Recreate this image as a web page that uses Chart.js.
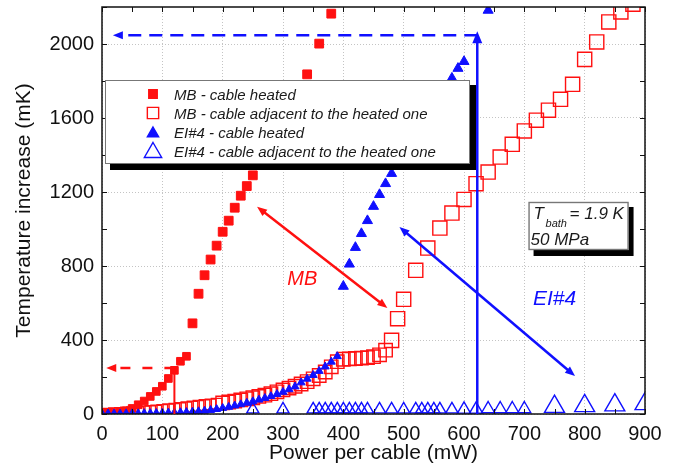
<!DOCTYPE html>
<html>
<head>
<meta charset="utf-8">
<script src="https://cdn.jsdelivr.net/npm/chart.js@4.4.0/dist/chart.umd.min.js"></script>
<style>
  html, body { margin: 0; padding: 0; background: #fff; }
  #wrap { width: 685px; height: 464px; }
</style>
</head>
<body>
<div id="wrap"><canvas id="chart" width="685" height="464"></canvas></div>
<script>
// MB - cable heated (filled red squares)
const mbHeatedX = [0, 10, 20, 30, 40, 50, 60, 70, 80, 90, 100, 110, 120, 130, 140, 150, 160, 170, 180, 190, 200, 210, 220, 230, 240, 250, 260, 270, 280, 290, 300, 310, 320, 330, 340, 360, 380];
const mbHeatedY = [2, 3, 5, 9, 17, 30, 50, 70, 95, 122, 150, 192, 236, 285, 312, 490, 650, 750, 835, 910, 985, 1045, 1115, 1180, 1232, 1290, 1350, 1410, 1470, 1530, 1590, 1650, 1700, 1755, 1836, 2002, 2164];

// MB - cable adjacent to the heated one (open red squares)
const mbAdjX = [0, 10, 20, 30, 40, 50, 60, 70, 80, 90, 100, 110, 120, 130, 140, 150, 160, 170, 180, 190, 200, 210, 220, 230, 240, 250, 260, 270, 280, 290, 300, 310, 320, 330, 340, 350, 360, 370, 380, 390, 400, 410, 420, 430, 440, 450, 460, 470, 480, 490, 500, 520, 540, 560, 580, 600, 620, 640, 660, 680, 700, 720, 740, 760, 780, 800, 820, 840, 860, 880];
const mbAdjY = [0, 2, 4, 6, 8, 10, 12, 14, 16, 19, 22, 25, 28, 32, 36, 40, 44, 48, 52, 56, 60, 65, 70, 76, 82, 88, 95, 102, 110, 120, 130, 140, 150, 162, 175, 190, 208, 227, 255, 283, 296, 298, 300, 302, 305, 310, 320, 345, 398, 515, 620, 777, 897, 1005, 1086, 1160, 1245, 1308, 1389, 1458, 1530, 1588, 1642, 1701, 1782, 1917, 2011, 2119, 2173, 2215];

// EI#4 - cable heated (filled blue triangles)
const eiHeatedX = [0, 10, 20, 30, 40, 50, 60, 70, 80, 90, 100, 110, 120, 130, 140, 150, 160, 170, 180, 190, 200, 210, 220, 230, 240, 250, 260, 270, 280, 290, 300, 310, 320, 330, 340, 350, 360, 370, 380, 390, 400, 410, 420, 430, 440, 450, 460, 470, 480, 490, 500, 510, 520, 530, 540, 550, 560, 570, 580, 590, 600, 640];
const eiHeatedY = [2, 2, 2, 2, 3, 3, 3, 4, 4, 5, 6, 7, 8, 9, 10, 12, 14, 17, 21, 26, 32, 38, 45, 52, 60, 68, 77, 86, 96, 107, 119, 133, 148, 170, 190, 210, 232, 256, 282, 312, 690, 810, 900, 975, 1045, 1122, 1186, 1245, 1300, 1350, 1400, 1450, 1500, 1550, 1600, 1650, 1700, 1760, 1815, 1868, 1905, 2182];

// EI#4 - cable adjacent to the heated one (open blue triangles)
const eiAdjX = [250, 300, 350, 360, 370, 380, 390, 400, 410, 420, 430, 440, 460, 480, 500, 520, 530, 540, 550, 560, 580, 600, 620, 640, 660, 680, 700, 750, 800, 850, 900];
const eiAdjY = [25, 25, 25, 25, 25, 25, 25, 25, 25, 25, 25, 25, 25, 25, 25, 25, 25, 25, 25, 25, 25, 25, 25, 27, 27, 27, 27, 40, 44, 48, 55];

const xTickValues = [0, 100, 200, 300, 400, 500, 600, 700, 800, 900];
const yTickValues = [0, 400, 800, 1200, 1600, 2000];

const legendLabels = ['MB - cable heated', 'MB - cable adjacent to the heated one', 'EI#4 - cable heated', 'EI#4 - cable adjacent to the heated one'];

// annotation anchors, data units
const mbArrow = [[257, 1120], [473, 573]];
const eiArrow = [[493, 1011], [784, 205]];
const mbRead = { x: 120, y: 248, tipX: 7 };
const eiRead = { x: 622, y: 2047, tipX: 18, tipY: 2069 };

const RED = '#ff1010';
const BLUE = '#1010ff';
const FONT = '"Liberation Sans", Arial, sans-serif';

const pts = (xs, ys) => xs.map((x, i) => ({ x: x, y: ys[i] }));

function arrowHead(ctx, x0, y0, x1, y1, len, half, color) {
  const a = Math.atan2(y1 - y0, x1 - x0);
  const c = Math.cos(a), s = Math.sin(a);
  ctx.beginPath();
  ctx.moveTo(x1, y1);
  ctx.lineTo(x1 - len * c + half * s, y1 - len * s - half * c);
  ctx.lineTo(x1 - len * c - half * s, y1 - len * s + half * c);
  ctx.closePath();
  ctx.fillStyle = color;
  ctx.fill();
}

function marker(ctx, style, x, y, r, color, filled) {
  ctx.beginPath();
  if (style === 'rect') {
    const h = r * Math.SQRT1_2;
    ctx.rect(x - h, y - h, 2 * h, 2 * h);
  } else {
    ctx.moveTo(x, y - r);
    ctx.lineTo(x + r * Math.sin(2 * Math.PI / 3), y - r * Math.cos(2 * Math.PI / 3));
    ctx.lineTo(x + r * Math.sin(4 * Math.PI / 3), y - r * Math.cos(4 * Math.PI / 3));
    ctx.closePath();
  }
  ctx.lineWidth = 1.4;
  ctx.strokeStyle = color;
  if (filled) { ctx.fillStyle = color; ctx.fill(); }
  ctx.stroke();
}

const annotate = {
  id: 'annotate',
  afterDatasetsDraw(chart) {
    const { ctx, chartArea: ca, scales: { x: xs, y: ys } } = chart;
    const px = v => xs.getPixelForValue(v);
    const py = v => ys.getPixelForValue(v);
    ctx.save();

    // inward ticks + frame
    ctx.strokeStyle = '#111';
    ctx.lineWidth = 1;
    ctx.beginPath();
    for (let v = 0; v <= 900; v += 50) {
      const x = Math.round(px(v)) + 0.5;
      ctx.moveTo(x, ca.bottom); ctx.lineTo(x, ca.bottom - 5);
      ctx.moveTo(x, ca.top); ctx.lineTo(x, ca.top + 5);
    }
    for (let v = 0; v <= 2200; v += 200) {
      const y = Math.round(py(v)) + 0.5;
      ctx.moveTo(ca.left, y); ctx.lineTo(ca.left + 5, y);
      ctx.moveTo(ca.right, y); ctx.lineTo(ca.right - 5, y);
    }
    ctx.stroke();
    ctx.lineWidth = 1.5;
    ctx.strokeRect(ca.left, ca.top, ca.right - ca.left, ca.bottom - ca.top);

    // MB reading at 120 mW
    ctx.strokeStyle = RED;
    ctx.lineWidth = 2;
    ctx.beginPath();
    ctx.moveTo(px(mbRead.x), py(0));
    ctx.lineTo(px(mbRead.x), py(mbRead.y));
    ctx.stroke();
    ctx.lineWidth = 2.5;
    ctx.setLineDash([10, 12]);
    ctx.beginPath();
    ctx.moveTo(px(mbRead.x), py(mbRead.y));
    ctx.lineTo(px(mbRead.tipX) + 8, py(mbRead.y));
    ctx.stroke();
    ctx.setLineDash([]);
    arrowHead(ctx, px(mbRead.x), py(mbRead.y), px(mbRead.tipX), py(mbRead.y), 10, 4, RED);

    // EI#4 reading at 620 mW
    ctx.strokeStyle = BLUE;
    ctx.lineWidth = 2.5;
    ctx.beginPath();
    ctx.moveTo(px(eiRead.x), py(0));
    ctx.lineTo(px(eiRead.x), py(eiRead.tipY) + 8);
    ctx.stroke();
    arrowHead(ctx, px(eiRead.x), py(0), px(eiRead.x), py(eiRead.tipY), 12, 5, BLUE);
    ctx.setLineDash([13, 8]);
    ctx.beginPath();
    ctx.moveTo(px(eiRead.x), py(eiRead.y));
    ctx.lineTo(px(eiRead.tipX) + 8, py(eiRead.y));
    ctx.stroke();
    ctx.setLineDash([]);
    arrowHead(ctx, px(eiRead.x), py(eiRead.y), px(eiRead.tipX), py(eiRead.y), 10, 4, BLUE);

    // double arrows
    [[mbArrow, RED], [eiArrow, BLUE]].forEach(([a, col]) => {
      const x0 = px(a[0][0]), y0 = py(a[0][1]), x1 = px(a[1][0]), y1 = py(a[1][1]);
      const d = Math.hypot(x1 - x0, y1 - y0), ux = (x1 - x0) / d, uy = (y1 - y0) / d;
      ctx.strokeStyle = col;
      ctx.lineWidth = 2.5;
      ctx.beginPath();
      ctx.moveTo(x0 + ux * 7, y0 + uy * 7);
      ctx.lineTo(x1 - ux * 7, y1 - uy * 7);
      ctx.stroke();
      arrowHead(ctx, x0, y0, x1, y1, 10, 4, col);
      arrowHead(ctx, x1, y1, x0, y0, 10, 4, col);
    });

    // labels
    ctx.textAlign = 'center';
    ctx.textBaseline = 'middle';
    ctx.font = 'italic 20px ' + FONT;
    ctx.fillStyle = RED;
    ctx.fillText('MB', px(332), py(730));
    ctx.font = 'italic 21px ' + FONT;
    ctx.fillStyle = BLUE;
    ctx.fillText('EI#4', px(750), py(619));
    ctx.restore();
  },
  afterDraw(chart) {
    const { ctx, chartArea: ca, scales: { x: xs, y: ys } } = chart;
    ctx.save();

    // legend box
    const lx = ca.left + 3, ly = ca.top + 73, lw = 365, lh = 84;
    ctx.fillStyle = '#000';
    ctx.fillRect(lx + 5, ly + 5, lw + 1, lh + 1);
    ctx.fillStyle = '#fff';
    ctx.fillRect(lx, ly, lw, lh);
    ctx.strokeStyle = '#777';
    ctx.lineWidth = 1;
    ctx.strokeRect(lx + 0.5, ly + 0.5, lw - 1, lh - 1);
    const styles = [['rect', 6, RED, true], ['rect', 8, RED, false], ['triangle', 6.5, BLUE, true], ['triangle', 10, BLUE, false]];
    ctx.font = 'italic 15px ' + FONT;
    ctx.textAlign = 'left';
    ctx.textBaseline = 'alphabetic';
    legendLabels.forEach((t, i) => {
      const rowY = ly + 14 + i * 19;
      const s = styles[i];
      marker(ctx, s[0], lx + 48, rowY + (s[0] === 'triangle' ? 1.5 : 0), s[1], s[2], s[3]);
      ctx.fillStyle = '#1a1a1a';
      ctx.fillText(t, lx + 69, rowY + 5.5);
    });

    // conditions box
    const bx = xs.getPixelForValue(707), by = ys.getPixelForValue(1146);
    ctx.fillStyle = '#000';
    ctx.fillRect(bx + 5, by + 5, 100, 49);
    ctx.fillStyle = '#fff';
    ctx.fillRect(bx, by, 100, 48);
    ctx.strokeStyle = '#777';
    ctx.strokeRect(bx + 0.5, by + 0.5, 99, 47);
    ctx.fillStyle = '#1a1a1a';
    ctx.font = 'italic 17px ' + FONT;
    ctx.fillText('T', bx + 5, by + 17);
    ctx.font = 'italic 11px ' + FONT;
    ctx.fillText('bath', bx + 17, by + 25);
    ctx.font = 'italic 17px ' + FONT;
    ctx.fillText('= 1.9 K', bx + 41, by + 17);
    ctx.fillText('50 MPa', bx + 2, by + 43);
    ctx.restore();
  }
};

new Chart(document.getElementById('chart'), {
  type: 'scatter',
  data: {
    datasets: [
      {
        label: legendLabels[2],
        data: pts(eiHeatedX, eiHeatedY),
        pointStyle: 'triangle',
        pointRadius: ctx => (ctx.raw && ctx.raw.x >= 400 ? 5.8 : 4.6),
        backgroundColor: BLUE,
        borderColor: BLUE,
        borderWidth: 1,
        clip: 0
      },
      {
        label: legendLabels[3],
        data: pts(eiAdjX, eiAdjY),
        pointStyle: 'triangle',
        pointRadius: ctx => (ctx.raw && ctx.raw.x >= 740 ? 11.5 : (ctx.raw && ctx.raw.x >= 600 ? 7.5 : 7)),
        backgroundColor: 'rgba(0,0,0,0)',
        borderColor: BLUE,
        borderWidth: 1.4,
        clip: 0
      },
      {
        label: legendLabels[0],
        data: pts(mbHeatedX, mbHeatedY),
        pointStyle: 'rect',
        pointRadius: ctx => (ctx.raw && ctx.raw.x >= 150 ? 6.2 : 5.4),
        backgroundColor: RED,
        borderColor: RED,
        borderWidth: 1,
        clip: 0
      },
      {
        label: legendLabels[1],
        data: pts(mbAdjX, mbAdjY),
        pointStyle: 'rect',
        pointRadius: ctx => (ctx.raw && ctx.raw.x >= 480 ? 10 : (ctx.raw && ctx.raw.x >= 200 ? 9.5 : 7.5)),
        backgroundColor: 'rgba(0,0,0,0)',
        borderColor: RED,
        borderWidth: 1.4,
        clip: 0
      }
    ]
  },
  options: {
    responsive: false,
    animation: false,
    events: [],
    layout: { autoPadding: false, padding: { top: 7, right: 40, left: 0, bottom: 0 } },
    plugins: { legend: { display: false }, tooltip: { enabled: false } },
    scales: {
      x: {
        type: 'linear',
        min: 0,
        max: 900,
        afterBuildTicks: s => { s.ticks = xTickValues.map(v => ({ value: v })); },
        afterFit: s => { s.height = 50; s.paddingLeft = 0; s.paddingRight = 0; },
        grid: { color: '#c4c4c4', lineWidth: 1, drawTicks: false },
        border: { display: false, dash: [1, 2] },
        ticks: { font: { family: FONT, size: 20 }, color: '#111', padding: 8, maxRotation: 0, autoSkip: false, callback: v => String(v) },
        title: { display: true, text: 'Power per cable (mW)', font: { family: FONT, size: 21 }, color: '#111', padding: { top: 0, bottom: -2 } }
      },
      y: {
        type: 'linear',
        min: 0,
        max: 2200,
        afterBuildTicks: s => { s.ticks = yTickValues.map(v => ({ value: v })); },
        afterFit: s => { s.width = 102; s.paddingTop = 0; s.paddingBottom = 0; },
        grid: { color: '#c4c4c4', lineWidth: 1, drawTicks: false },
        border: { display: false, dash: [1, 2] },
        ticks: { font: { family: FONT, size: 20 }, color: '#111', padding: 8, autoSkip: false, callback: v => String(v) },
        title: { display: true, text: 'Temperature increase (mK)', font: { family: FONT, size: 21 }, color: '#111', padding: { top: 12, bottom: 0 } }
      }
    }
  },
  plugins: [annotate]
});
</script>
</body>
</html>
